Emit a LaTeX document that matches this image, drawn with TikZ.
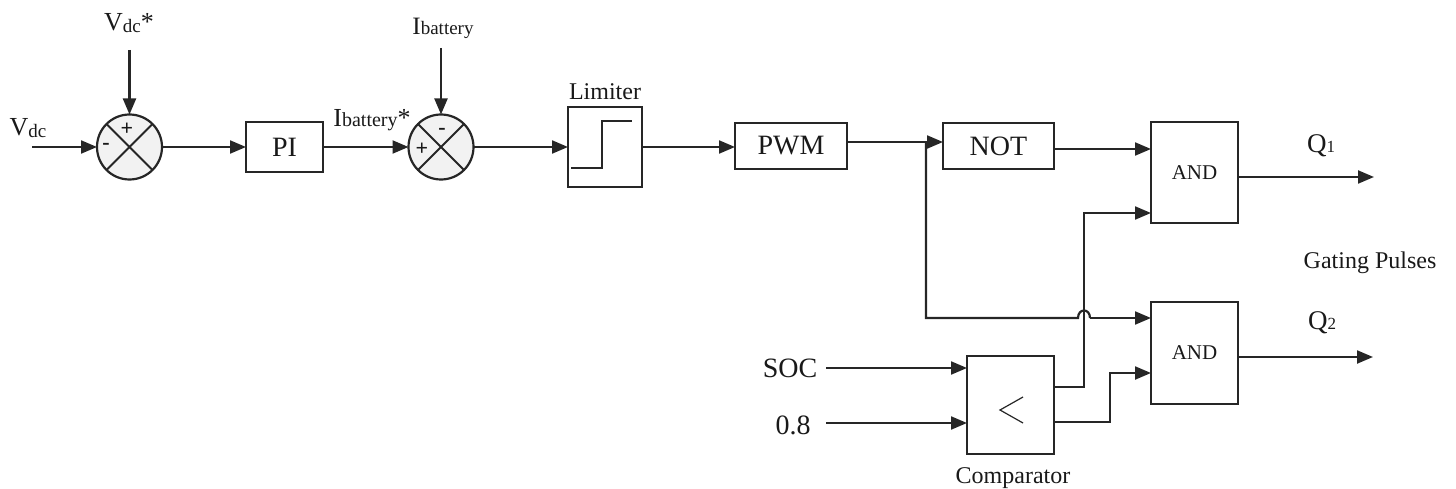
\documentclass[tikz,border=0pt]{standalone}
\usepackage{fontspec}
\setmainfont{Liberation Serif}
\usetikzlibrary{arrows.meta,calc}
\newcommand{\fsz}[1]{\fontsize{#1}{#1}\selectfont}
\begin{document}
\begin{tikzpicture}[x=1pt,y=-1pt,
  line width=2.2pt, draw=black!85, text=black!90,
  arr/.style={draw=black!85,-{Triangle[length=16pt,width=13pt]}},
  blk/.style={draw=black!85,rectangle,inner sep=0pt,outer sep=0pt,fill=white},
  sumc/.style={draw=black!85,circle,minimum size=65pt,inner sep=0pt,outer sep=0pt,fill=gray!10},
  lbl/.style={inner sep=0pt,font=\fsz{28}},
  sgn/.style={inner sep=0pt,font=\bfseries\fsz{22}}]
\useasboundingbox (0,0) rectangle (1456,489);

% summing junctions
\node[sumc] (s1) at (129.5,147) {};
\draw[line width=1.8pt] (s1.north west) -- (s1.south east) (s1.north east) -- (s1.south west);
\node[sgn] (s1p) at (127,129) {+};
\node[sgn] (s1m) at (106,146) {-};
\node[sumc] (s2) at (441,147) {};
\draw[line width=1.8pt] (s2.north west) -- (s2.south east) (s2.north east) -- (s2.south west);
\node[sgn] (s2p) at (422,149) {+};
\node[sgn] (s2m) at (442,131) {-};

% blocks
\node[blk,minimum width=77pt,minimum height=50pt,font=\fsz{28}] (pi) at (284.5,147) {PI};
\node[blk,minimum width=74pt,minimum height=80pt] (lim) at (605,147) {};
\draw[line width=1.8pt] (571,168) -- (602,168) -- (602,121) -- (632,121);
\node[inner sep=0pt,font=\fsz{24}] (limlbl) at (605,92) {Limiter};
\node[blk,minimum width=112pt,minimum height=46pt,font=\fsz{28}] (pwm) at (791,146) {PWM};
\node[blk,minimum width=111pt,minimum height=46pt,font=\fsz{28}] (not) at (998.5,146) {NOT};
\node[blk,minimum width=87pt,minimum height=101pt,font=\fsz{21}] (and1) at (1194.5,172.5) {AND};
\node[blk,minimum width=87pt,minimum height=102pt,font=\fsz{21}] (and2) at (1194.5,353) {AND};
\node[blk,minimum width=87pt,minimum height=98pt] (cmp) at (1010.5,405) {};
\draw[line width=1.2pt] (1023,397) -- (1000,410) -- (1023,423);
\node[inner sep=0pt,font=\fsz{24}] (cmplbl) at (1013,478) {Comparator};

% labels
\node[inner sep=0pt] (vdc) at (28,128) {\fsz{26}V\raisebox{-2pt}{\fsz{19}dc}};
\node[inner sep=0pt] (vdcs) at (129,23) {\fsz{26}V\raisebox{-2pt}{\fsz{19}dc}*};
\node[inner sep=0pt] (ibs) at (372,120) {\fsz{26}I{\fsz{20}battery}*};
\node[inner sep=0pt] (ib) at (443,28) {\fsz{25}I{\fsz{19}battery}};
\node[lbl] (soc) at (790,368) {SOC};
\node[lbl] (v08) at (793,425) {0.8};
\node[inner sep=0pt] (q1) at (1321,146) {\fsz{27}Q\raisebox{0pt}{\fsz{17}1}};
\node[inner sep=0pt] (q2) at (1322,323) {\fsz{27}Q\raisebox{0pt}{\fsz{17}2}};
\node[inner sep=0pt,font=\fsz{24}] (gp) at (1370,263) {Gating Pulses};

% coordinates
\coordinate (vin) at (32,147);
\coordinate (vtop) at (129.5,50);
\coordinate (itop) at (441,48);
\coordinate (br) at (926,142);
\coordinate (brd) at (926,318);
\coordinate (j1) at (1078,318);
\coordinate (j2) at (1090,318);
\coordinate (c1) at (1084,387);
\coordinate (c2) at (1110,422);
\coordinate (socs) at (826,368);
\coordinate (v08s) at (826,423);
\coordinate (q1e) at (1374,177);
\coordinate (q2e) at (1373,357);

% connectors
\draw[arr] (vin) -- (s1.west);
\draw[arr] (vtop) -- (s1.north);
\draw[arr] (s1.east) -- (s1.east -| pi.west);
\draw[arr] (pi.east) -- (pi.east -| s2.west);
\draw[arr] (itop) -- (s2.north);
\draw[arr] (s2.east) -- (s2.east -| lim.west);
\draw[arr] (lim.east) -- (lim.east -| pwm.west);
\draw[arr] ([yshift=4pt]pwm.east) -- ([yshift=4pt]not.west);
\draw (br) -- (brd) -- (j1) .. controls (1078,308) and (1090,308) .. (j2);
\draw[arr] (j2) -- (j2 -| and2.west);
\draw[arr] ([yshift=-3pt]not.east) -- ([yshift=-3pt]not.east -| and1.west);
\draw[arr] ([yshift=18pt]cmp.east) -- (c1) -- (c1 |- 0,213) -- (and1.west |- 0,213);
\draw[arr] ([yshift=-17pt]cmp.east) -- (c2) -- (c2 |- 0,373) -- (and2.west |- 0,373);
\draw[arr] (socs) -- (socs -| cmp.west);
\draw[arr] (v08s) -- (v08s -| cmp.west);
\draw[arr] (and1.east |- q1e) -- (q1e);
\draw[arr] (and2.east |- q2e) -- (q2e);
\end{tikzpicture}
\end{document}
